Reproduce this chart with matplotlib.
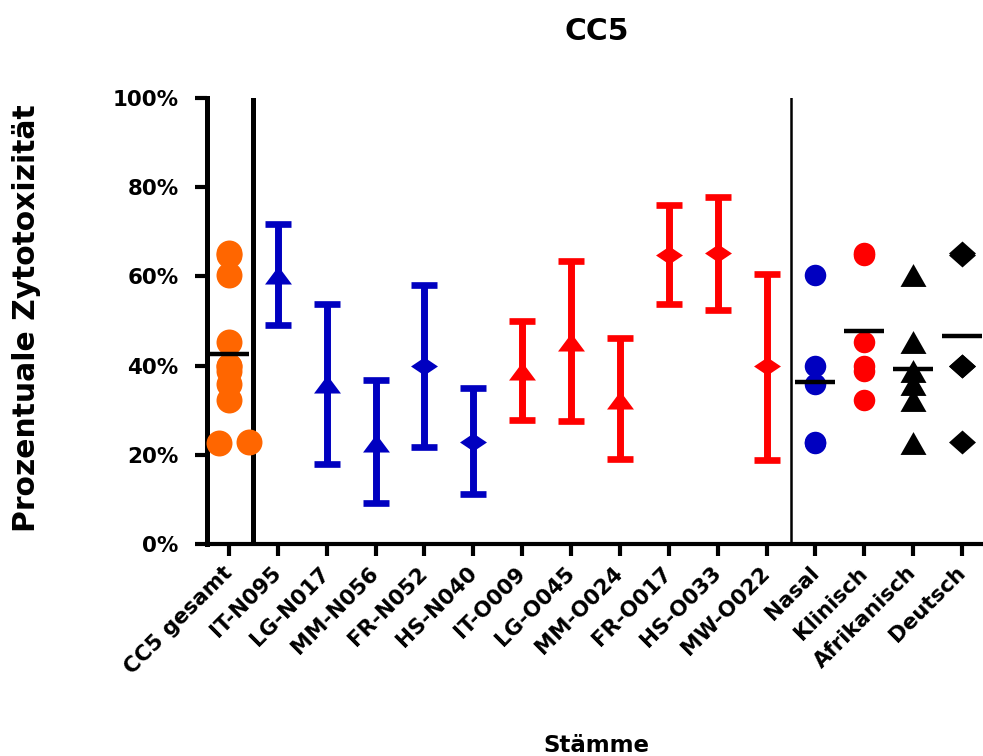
import numpy as np
import matplotlib
matplotlib.use("Agg")
import matplotlib.pyplot as plt

# Cytotoxicity per CC5 strain (mean with upper / lower error bar end, in %)
strains = ["IT-N095", "LG-N017", "MM-N056", "FR-N052", "HS-N040",
           "IT-O009", "LG-O045", "MM-O024", "FR-O017", "HS-O033", "MW-O022"]
strain_mean = [60.3, 35.8, 22.6, 40.0, 22.9, 38.8, 45.3, 32.3, 64.9, 65.2, 39.8]
strain_upper = [71.7, 53.7, 36.7, 58.0, 34.9, 49.9, 63.4, 46.1, 75.9, 77.9, 60.5]
strain_lower = [49.1, 17.9, 9.1, 21.7, 11.1, 27.8, 27.5, 19.0, 53.7, 52.4, 18.8]
strain_source = ["Nasal", "Nasal", "Nasal", "Nasal", "Nasal",
                 "Klinisch", "Klinisch", "Klinisch", "Klinisch", "Klinisch", "Klinisch"]
strain_region = ["Afrikanisch", "Afrikanisch", "Afrikanisch", "Deutsch", "Deutsch",
                 "Afrikanisch", "Afrikanisch", "Afrikanisch", "Deutsch", "Deutsch", "Deutsch"]

overall_label = "CC5 gesamt"
groups = ["Nasal", "Klinisch", "Afrikanisch", "Deutsch"]
categories = [overall_label] + strains + groups

ytick_values = [0, 20, 40, 60, 80, 100]
ytick_labels = ["0%", "20%", "40%", "60%", "80%", "100%"]

# ---- styling -------------------------------------------------------------
BLUE = "#0000C0"
RED = "#FF0000"
ORANGE = "#FF6600"
BLACK = "#000000"

source_color = {"Nasal": BLUE, "Klinisch": RED}
group_color = {"Nasal": BLUE, "Klinisch": RED, "Afrikanisch": BLACK, "Deutsch": BLACK}


def triangle(h):
    return [(-1, -h), (1, -h), (0, h), (-1, -h)]


def diamond(h):
    return [(0, h), (1, 0), (0, -h), (-1, 0), (0, h)]


strain_marker = {"Afrikanisch": triangle(0.67), "Deutsch": diamond(0.67)}
group_marker = {"Nasal": "o", "Klinisch": "o",
                "Afrikanisch": triangle(0.88), "Deutsch": diamond(0.89)}
group_ms = {"Nasal": 15.5, "Klinisch": 15.5, "Afrikanisch": 18.7, "Deutsch": 19.4}

# sideways shift of coinciding points in the overall column
overall_dx = {"MM-N056": -0.2, "HS-N040": 0.41}

plt.rcParams["font.family"] = "DejaVu Sans"
plt.rcParams["font.weight"] = "bold"

W, H = 983, 756
fig = plt.figure(figsize=(W / 100, H / 100), dpi=100)
ax = fig.add_axes([207 / W, 1 - 544 / H, 1 - 207 / W, (544 - 98) / H])

x = np.arange(len(categories))
means = np.array(strain_mean)

# overall column: all strain means
for i, (name, v) in enumerate(zip(strains, strain_mean)):
    ax.plot(x[0] + overall_dx.get(name, 0.0), v, "o", color=ORANGE, ms=18.7,
            mec="none", zorder=4, clip_on=False)
ax.plot([x[0] - 0.41, x[0] + 0.41], [means.mean()] * 2, color=BLACK, lw=3.2,
        solid_capstyle="butt", zorder=5)

# single strains: mean with error bar
for i, name in enumerate(strains):
    xi = x[1 + i]
    col = source_color[strain_source[i]]
    m = strain_mean[i]
    ax.errorbar([xi], [m], yerr=[[m - strain_lower[i]], [strain_upper[i] - m]],
                fmt="none", ecolor=col, elinewidth=5, capsize=9.7, capthick=4.8,
                zorder=3)
    ax.plot(xi, m, marker=strain_marker[strain_region[i]], ms=19.4, color=col,
            mec="none", linestyle="none", zorder=4)

# grouped columns: individual strain means plus group mean
for j, g in enumerate(groups):
    xi = x[1 + len(strains) + j]
    sel = [k for k in range(len(strains))
           if strain_source[k] == g or strain_region[k] == g]
    vals = means[sel]
    ax.plot([xi] * len(vals), vals, marker=group_marker[g], ms=group_ms[g],
            color=group_color[g], mec="none", linestyle="none", zorder=4)
    ax.plot([xi - 0.41, xi + 0.41], [vals.mean()] * 2, color=BLACK, lw=3.2,
            solid_capstyle="butt", zorder=5)

# separators
ax.axvline(x[0] + 0.5, color=BLACK, lw=3.6, zorder=2)
ax.axvline(x[len(strains)] + 0.5, color=BLACK, lw=1.8, zorder=2)

ax.set_xlim(-0.45, 15.43)
ax.set_ylim(0, 100)
ax.set_yticks(ytick_values)
ax.set_yticklabels(ytick_labels)
ax.set_xticks(x)
ax.set_xticklabels(categories, rotation=45, ha="right", va="center",
                   rotation_mode="anchor")

for s in ("top", "right"):
    ax.spines[s].set_visible(False)
ax.spines["left"].set_linewidth(3.6)
ax.spines["bottom"].set_linewidth(3.0)
ax.tick_params(axis="both", direction="out", length=8.6, width=3, labelsize=15.4)
ax.tick_params(axis="y", pad=12)
ax.tick_params(axis="x", pad=10)

fig.text(597 / W, 1 - 40 / H, "CC5", ha="center", va="baseline", fontsize=21.4,
         fontweight="bold")
fig.text(27 / W, 1 - 318 / H, "Prozentuale Zytotoxizität", rotation=90,
         ha="center", va="center", fontsize=21.4, fontweight="bold")
fig.text(596 / W, 1 - 752 / H, "Stämme", ha="center", va="baseline",
         fontsize=16.5, fontweight="bold")

fig.savefig("out.png", dpi=100)
